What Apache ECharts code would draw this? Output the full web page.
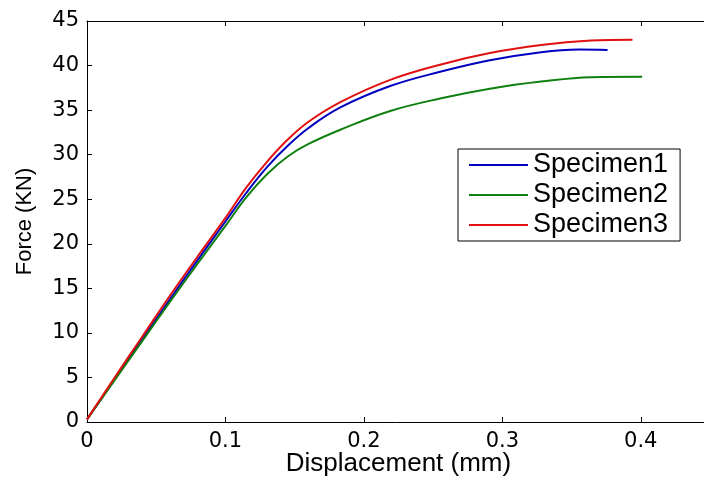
<!DOCTYPE html>
<html>
<head>
<meta charset="utf-8">
<script src="https://cdn.jsdelivr.net/npm/echarts@6/dist/echarts.min.js"></script>
<style>
  html, body { margin: 0; padding: 0; background: #fff; }
  #chart { width: 704px; height: 480px; }
</style>
</head>
<body>
<div id="chart"></div>
<script>
// values
const seriesNames = ['Specimen1', 'Specimen2', 'Specimen3']
const xTicks = [0, 0.1, 0.2, 0.3, 0.4]

const s1Disp = [0, 0.02, 0.04, 0.06, 0.08, 0.1, 0.115, 0.13, 0.145, 0.16, 0.183, 0.219, 0.255, 0.291, 0.328, 0.355, 0.376]
const s1Force = [0.3, 4.8, 9.3, 13.8, 18.2, 22.5, 25.7, 28.6, 31.0, 33.0, 35.3, 37.7, 39.3, 40.6, 41.5, 41.8, 41.75]

const s2Disp = [0, 0.02, 0.04, 0.06, 0.08, 0.1, 0.115, 0.13, 0.145, 0.16, 0.183, 0.219, 0.255, 0.291, 0.328, 0.364, 0.401]
const s2Force = [0.3, 4.7, 9.1, 13.5, 17.8, 22.0, 25.2, 27.8, 29.8, 31.2, 32.8, 34.9, 36.3, 37.4, 38.2, 38.7, 38.75]

const s3Disp = [0, 0.02, 0.04, 0.06, 0.08, 0.1, 0.115, 0.13, 0.145, 0.16, 0.183, 0.219, 0.255, 0.291, 0.328, 0.364, 0.394]
const s3Force = [0.3, 5.0, 9.6, 14.2, 18.6, 22.9, 26.3, 29.2, 31.7, 33.7, 35.9, 38.4, 40.1, 41.4, 42.3, 42.8, 42.9]

const colors = ['#0000c0', '#108010', '#e01010']

function pairs(xs, ys) {
  return xs.map((x, i) => [x, ys[i]])
}

const chart = echarts.init(document.getElementById('chart'))

const tickFont = { fontFamily: 'DejaVu Sans', fontSize: 21, color: '#000' }

chart.setOption({
  animation: false,
  backgroundColor: '#fff',
  grid: { left: 87, top: 21, width: 623, height: 401, outerBoundsMode: 'none', containLabel: false },
  legend: {
    data: seriesNames,
    orient: 'vertical',
    left: 458,
    top: 149,
    icon: 'rect',
    itemWidth: 59,
    itemHeight: 2,
    itemGap: 2,
    padding: [2, 12, 2, 11],
    borderColor: '#000',
    borderWidth: 1,
    backgroundColor: '#fff',
    textStyle: { fontFamily: 'Liberation Sans', fontSize: 27, lineHeight: 28, color: '#000' },
  },
  xAxis: [{
    type: 'value',
    min: 0,
    max: 0.45,
    interval: 0.1,
    name: 'Displacement (mm)',
    nameLocation: 'middle',
    nameGap: 29,
    nameMoveOverlap: false,
    nameTextStyle: { fontFamily: 'Liberation Sans', fontSize: 26, color: '#000' },
    axisLine: { show: true, lineStyle: { color: '#000', width: 1 } },
    axisTick: { show: true, inside: true, length: 5, lineStyle: { color: '#000' } },
    axisLabel: {
      ...tickFont,
      margin: 9,
      formatter: v => {
        const t = xTicks.find(k => Math.abs(k - v) < 1e-9)
        return t === undefined ? '' : String(t)
      },
    },
    splitLine: { show: false },
  }, {
    type: 'value',
    position: 'top',
    min: 0,
    max: 0.45,
    interval: 0.1,
    axisLine: { show: true, lineStyle: { color: '#000', width: 1 } },
    axisTick: { show: true, inside: true, length: 5, lineStyle: { color: '#000' } },
    axisLabel: { show: false },
    splitLine: { show: false },
  }],
  yAxis: {
    type: 'value',
    min: 0,
    max: 45,
    interval: 5,
    name: 'Force (KN)',
    nameLocation: 'middle',
    nameGap: 51,
    nameMoveOverlap: false,
    nameTextStyle: { fontFamily: 'Liberation Sans', fontSize: 22, color: '#000' },
    axisLine: { show: true, lineStyle: { color: '#000', width: 1 } },
    axisTick: { show: true, inside: true, length: 5, lineStyle: { color: '#000' } },
    axisLabel: { ...tickFont, margin: 8 },
    splitLine: { show: false },
  },
  series: [
    { name: seriesNames[0], type: 'line', data: pairs(s1Disp, s1Force) },
    { name: seriesNames[1], type: 'line', data: pairs(s2Disp, s2Force) },
    { name: seriesNames[2], type: 'line', data: pairs(s3Disp, s3Force) },
  ].map((s, i) => ({
    ...s,
    xAxisIndex: 0,
    symbol: 'none',
    smooth: 0.4,
    color: colors[i],
    lineStyle: { color: colors[i], width: 2 },
  })),
})
</script>
</body>
</html>
